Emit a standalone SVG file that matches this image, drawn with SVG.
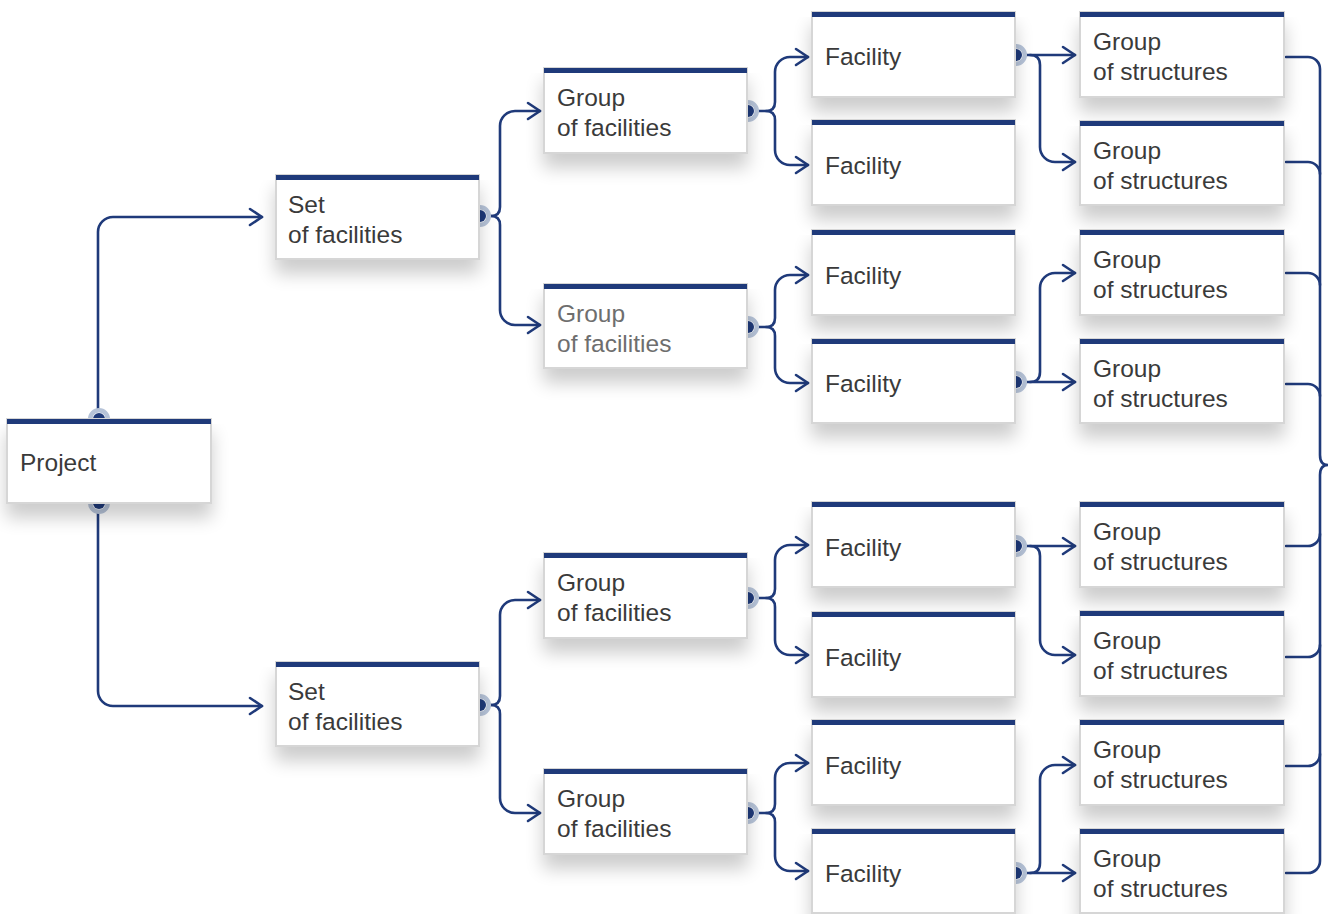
<svg xmlns="http://www.w3.org/2000/svg" width="1328" height="914" viewBox="0 0 1328 914">
  <style>
    .box { fill: #ffffff; stroke: #d6d6d6; stroke-width: 2; filter: url(#shade); }
    .bar { fill: #1f3a7a; }
    .lbl { font-family: "Liberation Sans", Arial, sans-serif; font-size: 24.5px; fill: #3a3a3a; }
    .lbl.dim { fill: #6e6e6e; }
    .wire { fill: none; stroke: #1f3a7a; stroke-width: 2.6; stroke-linecap: round; stroke-linejoin: round; }
    .arr { marker-end: url(#chev); }
    .ring { fill: #ffffff; stroke: #b6c3d8; stroke-width: 4.5; }
    .pin { fill: #1f3a7a; }
  </style>
  <defs>
    <filter id="shade" x="-10%" y="-10%" width="120%" height="170%">
      <feGaussianBlur in="SourceAlpha" stdDeviation="9"/>
      <feOffset dx="0" dy="14" result="b"/>
      <feComponentTransfer><feFuncA type="linear" slope="0.2"/></feComponentTransfer>
      <feMerge><feMergeNode/><feMergeNode in="SourceGraphic"/></feMerge>
    </filter>
    <marker id="chev" markerUnits="userSpaceOnUse" markerWidth="18" markerHeight="22" refX="14" refY="10" orient="auto" viewBox="0 0 18 22">
      <path d="M2,2 L14,10 L2,18" fill="none" stroke="#1f3a7a" stroke-width="2.6" stroke-linecap="round" stroke-linejoin="round"/>
    </marker>
    <!-- output pin: light ring round a dark dot, half hidden by its box -->
    <g id="pinMark">
      <circle class="ring" cx="0" cy="0" r="8.8"/>
      <circle class="pin" cx="0" cy="0" r="6"/>
    </g>
  </defs>

  <rect width="1328" height="914" fill="#ffffff"/>

  <!-- connectors -->
  <g id="connectors">
    <!-- project to sets -->
    <path class="wire arr" d="M98,411 V232 A15,15 0 0 1 113,217 H262"/>
    <path class="wire arr" d="M98,511 V691 A15,15 0 0 0 113,706 H262"/>
    <!-- sets to groups of facilities -->
    <path class="wire arr" d="M486,216 H491 Q500,216 500,207 V126 A15,15 0 0 1 515,111 H540"/>
    <path class="wire arr" d="M491,216 Q500,216 500,225 V310 A15,15 0 0 0 515,325 H540"/>
    <path class="wire arr" d="M486,705 H491 Q500,705 500,696 V615 A15,15 0 0 1 515,600 H540"/>
    <path class="wire arr" d="M491,705 Q500,705 500,714 V798 A15,15 0 0 0 515,813 H540"/>
    <!-- groups of facilities to facilities -->
    <path class="wire arr" d="M754,111 H766 Q775,111 775,102 V72 A15,15 0 0 1 790,57 H808"/>
    <path class="wire arr" d="M766,111 Q775,111 775,120 V150 A15,15 0 0 0 790,165 H808"/>
    <path class="wire arr" d="M754,327 H766 Q775,327 775,318 V290 A15,15 0 0 1 790,275 H808"/>
    <path class="wire arr" d="M766,327 Q775,327 775,336 V368 A15,15 0 0 0 790,383 H808"/>
    <path class="wire arr" d="M754,598 H766 Q775,598 775,589 V560 A15,15 0 0 1 790,545 H808"/>
    <path class="wire arr" d="M766,598 Q775,598 775,607 V640 A15,15 0 0 0 790,655 H808"/>
    <path class="wire arr" d="M754,813 H766 Q775,813 775,804 V778 A15,15 0 0 1 790,763 H808"/>
    <path class="wire arr" d="M766,813 Q775,813 775,822 V856 A15,15 0 0 0 790,871 H808"/>
    <!-- facilities to groups of structures -->
    <path class="wire arr" d="M1022,55 H1075"/>
    <path class="wire arr" d="M1030,55 Q1040,55 1040,65 V147 A15,15 0 0 0 1055,162 H1075"/>
    <path class="wire arr" d="M1022,382 H1075"/>
    <path class="wire arr" d="M1030,382 Q1040,382 1040,372 V288 A15,15 0 0 1 1055,273 H1075"/>
    <path class="wire arr" d="M1022,546 H1075"/>
    <path class="wire arr" d="M1030,546 Q1040,546 1040,556 V640 A15,15 0 0 0 1055,655 H1075"/>
    <path class="wire arr" d="M1022,873 H1075"/>
    <path class="wire arr" d="M1030,873 Q1040,873 1040,863 V780 A15,15 0 0 1 1055,765 H1075"/>
    <!-- collecting brace on the right -->
    <path class="wire" d="M1286,57 H1308 A12,12 0 0 1 1320,69 V455 Q1320,465 1328,465 Q1320,465 1320,475 V861 A12,12 0 0 1 1308,873 H1286"/>
    <path class="wire" d="M1286,162 H1308 A12,12 0 0 1 1320,174"/>
    <path class="wire" d="M1286,273 H1308 A12,12 0 0 1 1320,285"/>
    <path class="wire" d="M1286,384 H1308 A12,12 0 0 1 1320,396"/>
    <path class="wire" d="M1286,546 H1308 A12,12 0 0 0 1320,534"/>
    <path class="wire" d="M1286,657 H1308 A12,12 0 0 0 1320,645"/>
    <path class="wire" d="M1286,766 H1308 A12,12 0 0 0 1320,754"/>
    <!-- output pins -->
    <g id="pins">
      <use href="#pinMark" x="99" y="419"/>
      <use href="#pinMark" x="99" y="503"/>
      <use href="#pinMark" x="480" y="216"/>
      <use href="#pinMark" x="480" y="705"/>
      <use href="#pinMark" x="748" y="111"/>
      <use href="#pinMark" x="748" y="327"/>
      <use href="#pinMark" x="748" y="598"/>
      <use href="#pinMark" x="748" y="813"/>
      <use href="#pinMark" x="1016" y="55"/>
      <use href="#pinMark" x="1016" y="382"/>
      <use href="#pinMark" x="1016" y="546"/>
      <use href="#pinMark" x="1016" y="873"/>
    </g>
  </g>

  <!-- nodes -->
  <g id="project"><rect class="box" x="7" y="419" width="204" height="84"/><rect class="bar" x="7" y="419" width="204" height="5"/><text class="lbl" x="20" y="471">Project</text></g>

  <g id="set-1"><rect class="box" x="276" y="175" width="203" height="84"/><rect class="bar" x="276" y="175" width="203" height="5"/><text class="lbl" x="288" y="213">Set</text><text class="lbl" x="288" y="243">of facilities</text></g>
  <g id="set-2"><rect class="box" x="276" y="662" width="203" height="84"/><rect class="bar" x="276" y="662" width="203" height="5"/><text class="lbl" x="288" y="700">Set</text><text class="lbl" x="288" y="730">of facilities</text></g>

  <g id="gf-1"><rect class="box" x="544" y="68" width="203" height="85"/><rect class="bar" x="544" y="68" width="203" height="5"/><text class="lbl" x="557" y="106">Group</text><text class="lbl" x="557" y="136">of facilities</text></g>
  <g id="gf-2"><rect class="box" x="544" y="284" width="203" height="84"/><rect class="bar" x="544" y="284" width="203" height="5"/><text class="lbl dim" x="557" y="322">Group</text><text class="lbl dim" x="557" y="352">of facilities</text></g>
  <g id="gf-3"><rect class="box" x="544" y="553" width="203" height="85"/><rect class="bar" x="544" y="553" width="203" height="5"/><text class="lbl" x="557" y="591">Group</text><text class="lbl" x="557" y="621">of facilities</text></g>
  <g id="gf-4"><rect class="box" x="544" y="769" width="203" height="85"/><rect class="bar" x="544" y="769" width="203" height="5"/><text class="lbl" x="557" y="807">Group</text><text class="lbl" x="557" y="837">of facilities</text></g>

  <g id="fac-1"><rect class="box" x="812" y="12" width="203" height="85"/><rect class="bar" x="812" y="12" width="203" height="5"/><text class="lbl" x="825" y="65">Facility</text></g>
  <g id="fac-2"><rect class="box" x="812" y="120" width="203" height="85"/><rect class="bar" x="812" y="120" width="203" height="5"/><text class="lbl" x="825" y="174">Facility</text></g>
  <g id="fac-3"><rect class="box" x="812" y="230" width="203" height="85"/><rect class="bar" x="812" y="230" width="203" height="5"/><text class="lbl" x="825" y="284">Facility</text></g>
  <g id="fac-4"><rect class="box" x="812" y="339" width="203" height="84"/><rect class="bar" x="812" y="339" width="203" height="5"/><text class="lbl" x="825" y="392">Facility</text></g>
  <g id="fac-5"><rect class="box" x="812" y="502" width="203" height="85"/><rect class="bar" x="812" y="502" width="203" height="5"/><text class="lbl" x="825" y="556">Facility</text></g>
  <g id="fac-6"><rect class="box" x="812" y="612" width="203" height="85"/><rect class="bar" x="812" y="612" width="203" height="5"/><text class="lbl" x="825" y="666">Facility</text></g>
  <g id="fac-7"><rect class="box" x="812" y="720" width="203" height="85"/><rect class="bar" x="812" y="720" width="203" height="5"/><text class="lbl" x="825" y="774">Facility</text></g>
  <g id="fac-8"><rect class="box" x="812" y="829" width="203" height="84"/><rect class="bar" x="812" y="829" width="203" height="5"/><text class="lbl" x="825" y="882">Facility</text></g>

  <g id="gs-1"><rect class="box" x="1080" y="12" width="204" height="85"/><rect class="bar" x="1080" y="12" width="204" height="5"/><text class="lbl" x="1093" y="50">Group</text><text class="lbl" x="1093" y="80">of structures</text></g>
  <g id="gs-2"><rect class="box" x="1080" y="121" width="204" height="84"/><rect class="bar" x="1080" y="121" width="204" height="5"/><text class="lbl" x="1093" y="159">Group</text><text class="lbl" x="1093" y="189">of structures</text></g>
  <g id="gs-3"><rect class="box" x="1080" y="230" width="204" height="85"/><rect class="bar" x="1080" y="230" width="204" height="5"/><text class="lbl" x="1093" y="268">Group</text><text class="lbl" x="1093" y="298">of structures</text></g>
  <g id="gs-4"><rect class="box" x="1080" y="339" width="204" height="84"/><rect class="bar" x="1080" y="339" width="204" height="5"/><text class="lbl" x="1093" y="377">Group</text><text class="lbl" x="1093" y="407">of structures</text></g>
  <g id="gs-5"><rect class="box" x="1080" y="502" width="204" height="85"/><rect class="bar" x="1080" y="502" width="204" height="5"/><text class="lbl" x="1093" y="540">Group</text><text class="lbl" x="1093" y="570">of structures</text></g>
  <g id="gs-6"><rect class="box" x="1080" y="611" width="204" height="85"/><rect class="bar" x="1080" y="611" width="204" height="5"/><text class="lbl" x="1093" y="649">Group</text><text class="lbl" x="1093" y="679">of structures</text></g>
  <g id="gs-7"><rect class="box" x="1080" y="720" width="204" height="85"/><rect class="bar" x="1080" y="720" width="204" height="5"/><text class="lbl" x="1093" y="758">Group</text><text class="lbl" x="1093" y="788">of structures</text></g>
  <g id="gs-8"><rect class="box" x="1080" y="829" width="204" height="84"/><rect class="bar" x="1080" y="829" width="204" height="5"/><text class="lbl" x="1093" y="867">Group</text><text class="lbl" x="1093" y="897">of structures</text></g>
</svg>
